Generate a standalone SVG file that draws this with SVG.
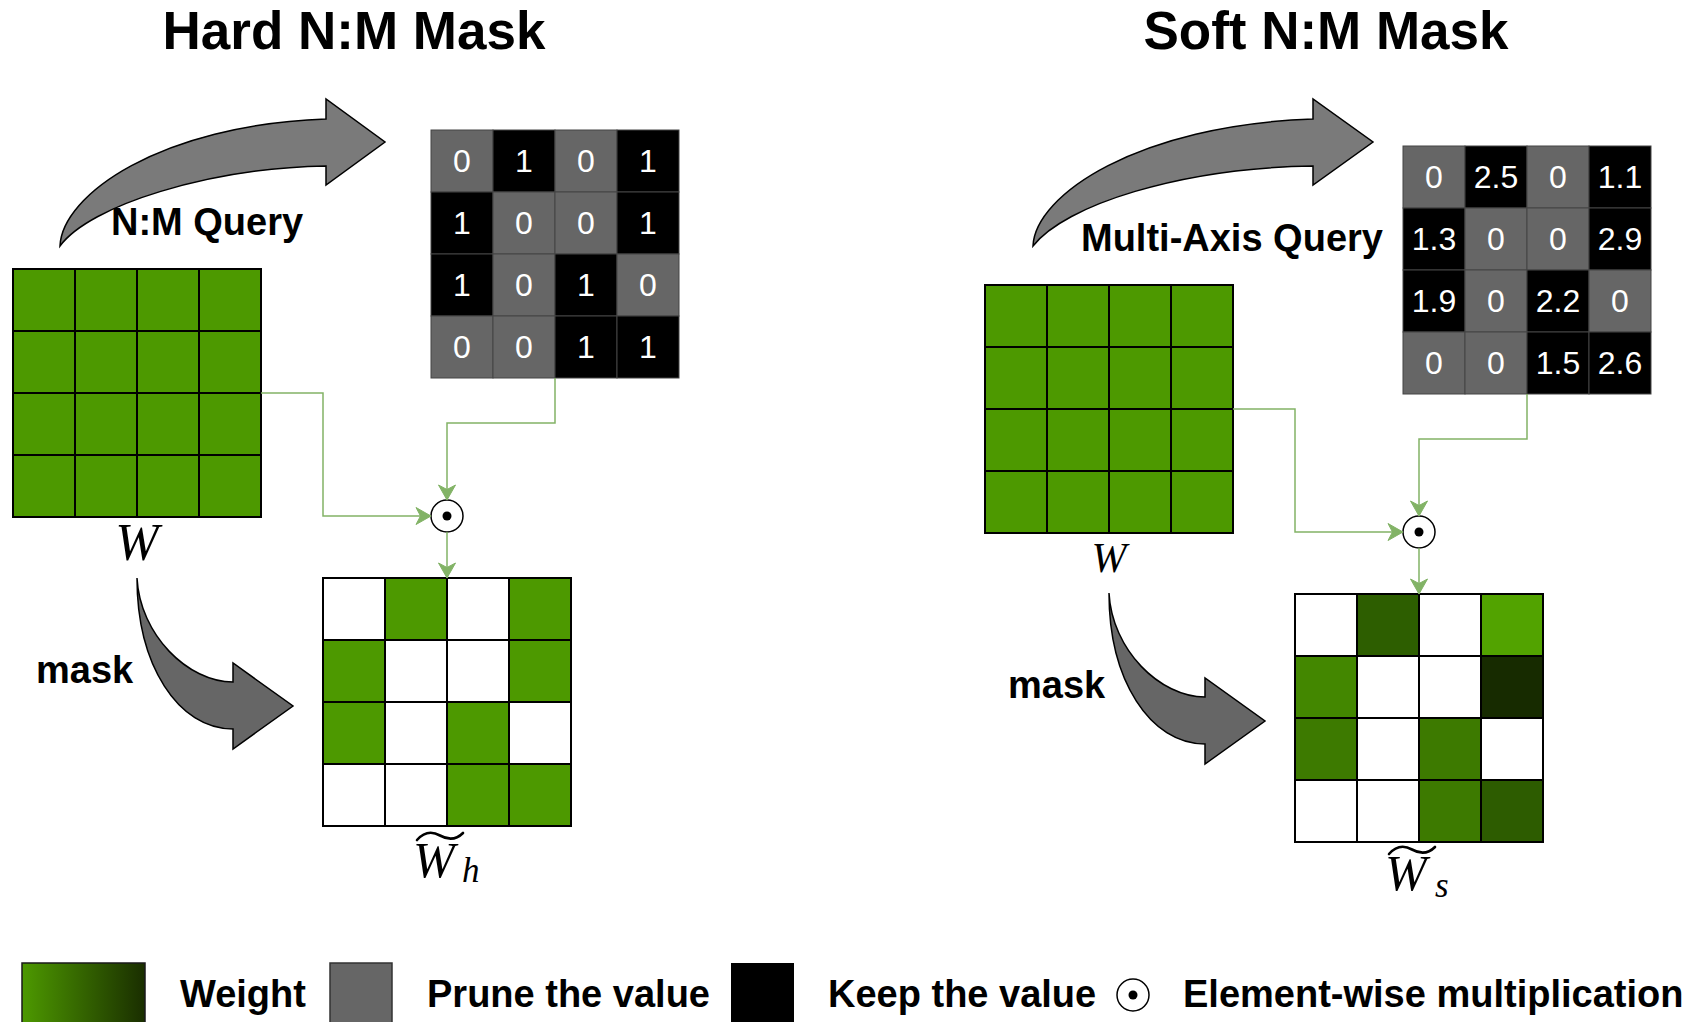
<svg xmlns="http://www.w3.org/2000/svg" width="1699" height="1022" viewBox="0 0 1699 1022">
  <style>
    .w { fill:#4d9900; stroke:#000; stroke-width:2; }
    .blank { fill:#fff; stroke:#000; stroke-width:2; }
    .prune { fill:#666; stroke:#444; stroke-width:1; }
    .keep { fill:#000; stroke:#444; stroke-width:1; }
    .val { font-family:"Liberation Sans", Arial, sans-serif; font-size:32px; fill:#fff; text-anchor:middle; }
    .lbl { font-family:"Liberation Sans", Arial, sans-serif; font-weight:bold; font-size:38px; fill:#000; }
    .title { font-size:53px; text-anchor:middle; }
    .math { font-family:"Liberation Serif", "Times New Roman", serif; font-style:italic; fill:#000; }
    .conn { fill:none; stroke:#82b366; stroke-width:1.5; }
    .bigarrow { stroke:#000; stroke-width:1.5; stroke-linejoin:miter; }
    .odot { fill:#fff; stroke:#000; stroke-width:1.5; }
    .tilde { fill:none; stroke:#000; stroke-width:2.6; stroke-linecap:round; }
  </style>
  <defs>
    <marker id="ah" markerUnits="userSpaceOnUse" markerWidth="16" markerHeight="17" refX="15" refY="8.5" orient="auto" overflow="visible">
      <path d="M0,0 L15,8.5 L0,17 L4.5,8.5 Z" fill="#82b366" stroke="#82b366" stroke-width="1"/>
    </marker>
    <linearGradient id="wgrad" x1="0" y1="0" x2="1" y2="0">
      <stop offset="0" stop-color="#4d9900"/>
      <stop offset="1" stop-color="#1a2e00"/>
    </linearGradient>
  </defs>
  <rect width="1699" height="1022" fill="#fff"/>

  <!-- titles -->
  <text class="lbl title" x="354" y="49">Hard N:M Mask</text>
  <text class="lbl title" x="1326" y="49">Soft N:M Mask</text>

  <!-- ===== hard mask panel ===== -->
  <g id="hard-weight">
    <rect class="w" x="13" y="269" width="62" height="62"/><rect class="w" x="75" y="269" width="62" height="62"/><rect class="w" x="137" y="269" width="62" height="62"/><rect class="w" x="199" y="269" width="62" height="62"/>
    <rect class="w" x="13" y="331" width="62" height="62"/><rect class="w" x="75" y="331" width="62" height="62"/><rect class="w" x="137" y="331" width="62" height="62"/><rect class="w" x="199" y="331" width="62" height="62"/>
    <rect class="w" x="13" y="393" width="62" height="62"/><rect class="w" x="75" y="393" width="62" height="62"/><rect class="w" x="137" y="393" width="62" height="62"/><rect class="w" x="199" y="393" width="62" height="62"/>
    <rect class="w" x="13" y="455" width="62" height="62"/><rect class="w" x="75" y="455" width="62" height="62"/><rect class="w" x="137" y="455" width="62" height="62"/><rect class="w" x="199" y="455" width="62" height="62"/>
    <text class="math" x="137" y="560" font-size="52" text-anchor="middle">W</text>
  </g>

  <g id="hard-query-arrow">
    <path class="bigarrow" fill="#7a7a7a" d="M60,246 C62,195 160,125 326,119 L326,99 L385,142 L326,185 L326,166 C210,168 90,205 60,246 Z"/>
    <text class="lbl" x="111" y="235">N:M Query</text>
  </g>

  <g id="hard-query">
    <rect class="prune" x="431" y="130" width="62" height="62"/><rect class="keep" x="493" y="130" width="62" height="62"/><rect class="prune" x="555" y="130" width="62" height="62"/><rect class="keep" x="617" y="130" width="62" height="62"/>
    <rect class="keep" x="431" y="192" width="62" height="62"/><rect class="prune" x="493" y="192" width="62" height="62"/><rect class="prune" x="555" y="192" width="62" height="62"/><rect class="keep" x="617" y="192" width="62" height="62"/>
    <rect class="keep" x="431" y="254" width="62" height="62"/><rect class="prune" x="493" y="254" width="62" height="62"/><rect class="keep" x="555" y="254" width="62" height="62"/><rect class="prune" x="617" y="254" width="62" height="62"/>
    <rect class="prune" x="431" y="316" width="62" height="62"/><rect class="prune" x="493" y="316" width="62" height="62"/><rect class="keep" x="555" y="316" width="62" height="62"/><rect class="keep" x="617" y="316" width="62" height="62"/>
    <text class="val" x="462" y="172">0</text><text class="val" x="524" y="172">1</text><text class="val" x="586" y="172">0</text><text class="val" x="648" y="172">1</text>
    <text class="val" x="462" y="234">1</text><text class="val" x="524" y="234">0</text><text class="val" x="586" y="234">0</text><text class="val" x="648" y="234">1</text>
    <text class="val" x="462" y="296">1</text><text class="val" x="524" y="296">0</text><text class="val" x="586" y="296">1</text><text class="val" x="648" y="296">0</text>
    <text class="val" x="462" y="358">0</text><text class="val" x="524" y="358">0</text><text class="val" x="586" y="358">1</text><text class="val" x="648" y="358">1</text>
  </g>

  <g id="hard-mul">
    <circle class="odot" cx="447" cy="516" r="16"/>
    <circle cx="447" cy="516" r="4.5" fill="#000"/>
  </g>

  <g id="hard-mask-arrow">
    <path class="bigarrow" fill="#666" d="M137,578 C137,665 178,729 233,729 L233,749 L293,706 L233,663 L233,682 C188,682 140,635 137,578 Z"/>
    <text class="lbl" x="36" y="683">mask</text>
  </g>

  <g id="hard-result">
    <rect class="blank" x="323" y="578" width="62" height="62"/><rect class="w" x="385" y="578" width="62" height="62"/><rect class="blank" x="447" y="578" width="62" height="62"/><rect class="w" x="509" y="578" width="62" height="62"/>
    <rect class="w" x="323" y="640" width="62" height="62"/><rect class="blank" x="385" y="640" width="62" height="62"/><rect class="blank" x="447" y="640" width="62" height="62"/><rect class="w" x="509" y="640" width="62" height="62"/>
    <rect class="w" x="323" y="702" width="62" height="62"/><rect class="blank" x="385" y="702" width="62" height="62"/><rect class="w" x="447" y="702" width="62" height="62"/><rect class="blank" x="509" y="702" width="62" height="62"/>
    <rect class="blank" x="323" y="764" width="62" height="62"/><rect class="blank" x="385" y="764" width="62" height="62"/><rect class="w" x="447" y="764" width="62" height="62"/><rect class="w" x="509" y="764" width="62" height="62"/>
    <path class="tilde" d="M417,840 C424,832 432,831 440,835.5 C448,840 456,840 463,833"/>
    <text class="math" x="413" y="877" font-size="50">W</text>
    <text class="math" x="462" y="882" font-size="35">h</text>
  </g>

  <!-- ===== soft mask panel ===== -->
  <g id="soft-weight">
    <rect class="w" x="985" y="285" width="62" height="62"/><rect class="w" x="1047" y="285" width="62" height="62"/><rect class="w" x="1109" y="285" width="62" height="62"/><rect class="w" x="1171" y="285" width="62" height="62"/>
    <rect class="w" x="985" y="347" width="62" height="62"/><rect class="w" x="1047" y="347" width="62" height="62"/><rect class="w" x="1109" y="347" width="62" height="62"/><rect class="w" x="1171" y="347" width="62" height="62"/>
    <rect class="w" x="985" y="409" width="62" height="62"/><rect class="w" x="1047" y="409" width="62" height="62"/><rect class="w" x="1109" y="409" width="62" height="62"/><rect class="w" x="1171" y="409" width="62" height="62"/>
    <rect class="w" x="985" y="471" width="62" height="62"/><rect class="w" x="1047" y="471" width="62" height="62"/><rect class="w" x="1109" y="471" width="62" height="62"/><rect class="w" x="1171" y="471" width="62" height="62"/>
    <text class="math" x="1109" y="572" font-size="42" text-anchor="middle">W</text>
  </g>

  <g id="soft-query-arrow">
    <path class="bigarrow" fill="#7a7a7a" d="M1033,246 C1035,195 1138,125 1313,119 L1313,99 L1373,142 L1313,185 L1313,166 C1180,168 1065,205 1033,246 Z"/>
    <text class="lbl" x="1081" y="251">Multi-Axis Query</text>
  </g>

  <g id="soft-query">
    <rect class="prune" x="1403" y="146" width="62" height="62"/><rect class="keep" x="1465" y="146" width="62" height="62"/><rect class="prune" x="1527" y="146" width="62" height="62"/><rect class="keep" x="1589" y="146" width="62" height="62"/>
    <rect class="keep" x="1403" y="208" width="62" height="62"/><rect class="prune" x="1465" y="208" width="62" height="62"/><rect class="prune" x="1527" y="208" width="62" height="62"/><rect class="keep" x="1589" y="208" width="62" height="62"/>
    <rect class="keep" x="1403" y="270" width="62" height="62"/><rect class="prune" x="1465" y="270" width="62" height="62"/><rect class="keep" x="1527" y="270" width="62" height="62"/><rect class="prune" x="1589" y="270" width="62" height="62"/>
    <rect class="prune" x="1403" y="332" width="62" height="62"/><rect class="prune" x="1465" y="332" width="62" height="62"/><rect class="keep" x="1527" y="332" width="62" height="62"/><rect class="keep" x="1589" y="332" width="62" height="62"/>
    <text class="val" x="1434" y="188">0</text><text class="val" x="1496" y="188">2.5</text><text class="val" x="1558" y="188">0</text><text class="val" x="1620" y="188">1.1</text>
    <text class="val" x="1434" y="250">1.3</text><text class="val" x="1496" y="250">0</text><text class="val" x="1558" y="250">0</text><text class="val" x="1620" y="250">2.9</text>
    <text class="val" x="1434" y="312">1.9</text><text class="val" x="1496" y="312">0</text><text class="val" x="1558" y="312">2.2</text><text class="val" x="1620" y="312">0</text>
    <text class="val" x="1434" y="374">0</text><text class="val" x="1496" y="374">0</text><text class="val" x="1558" y="374">1.5</text><text class="val" x="1620" y="374">2.6</text>
  </g>

  <g id="soft-mul">
    <circle class="odot" cx="1419" cy="532" r="16"/>
    <circle cx="1419" cy="532" r="4.5" fill="#000"/>
  </g>

  <g id="soft-mask-arrow">
    <path class="bigarrow" fill="#666" d="M1109,593 C1109,680 1150,744 1205,744 L1205,764 L1265,721 L1205,678 L1205,697 C1160,697 1112,650 1109,593 Z"/>
    <text class="lbl" x="1008" y="698">mask</text>
  </g>

  <g id="soft-result">
    <rect class="blank" x="1295" y="594" width="62" height="62"/><rect fill="#2d5e00" stroke="#000" stroke-width="2" x="1357" y="594" width="62" height="62"/><rect class="blank" x="1419" y="594" width="62" height="62"/><rect fill="#52a300" stroke="#000" stroke-width="2" x="1481" y="594" width="62" height="62"/>
    <rect fill="#438700" stroke="#000" stroke-width="2" x="1295" y="656" width="62" height="62"/><rect class="blank" x="1357" y="656" width="62" height="62"/><rect class="blank" x="1419" y="656" width="62" height="62"/><rect fill="#172b00" stroke="#000" stroke-width="2" x="1481" y="656" width="62" height="62"/>
    <rect fill="#3d7a00" stroke="#000" stroke-width="2" x="1295" y="718" width="62" height="62"/><rect class="blank" x="1357" y="718" width="62" height="62"/><rect fill="#3d7a00" stroke="#000" stroke-width="2" x="1419" y="718" width="62" height="62"/><rect class="blank" x="1481" y="718" width="62" height="62"/>
    <rect class="blank" x="1295" y="780" width="62" height="62"/><rect class="blank" x="1357" y="780" width="62" height="62"/><rect fill="#3d7a00" stroke="#000" stroke-width="2" x="1419" y="780" width="62" height="62"/><rect fill="#2d5c00" stroke="#000" stroke-width="2" x="1481" y="780" width="62" height="62"/>
    <path class="tilde" d="M1389,854 C1396,846 1404,845 1412,849.5 C1420,854 1428,854 1435,847"/>
    <text class="math" x="1385" y="890" font-size="50">W</text>
    <text class="math" x="1435" y="897" font-size="35">s</text>
  </g>

  <!-- connectors -->
  <g id="connectors">
    <path class="conn" d="M261,393 H323 V516 H431" marker-end="url(#ah)"/>
    <path class="conn" d="M555,378 V423 H447 V500" marker-end="url(#ah)"/>
    <path class="conn" d="M447,532 V578" marker-end="url(#ah)"/>
    <path class="conn" d="M1233,409 H1295 V532 H1403" marker-end="url(#ah)"/>
    <path class="conn" d="M1527,394 V439 H1419 V516" marker-end="url(#ah)"/>
    <path class="conn" d="M1419,548 V594" marker-end="url(#ah)"/>
  </g>

  <!-- legend -->
  <g id="legend">
    <rect x="22" y="963" width="123" height="70" fill="url(#wgrad)" stroke="#1a1a1a" stroke-width="1.5"/>
    <text class="lbl" x="180" y="1007">Weight</text>
    <rect x="330" y="963" width="62" height="70" fill="#666" stroke="#333" stroke-width="1.5"/>
    <text class="lbl" x="427" y="1007">Prune the value</text>
    <rect x="731" y="963" width="63" height="70" fill="#000"/>
    <text class="lbl" x="828" y="1007">Keep the value</text>
    <circle class="odot" cx="1133" cy="995" r="16"/>
    <circle cx="1133" cy="995" r="4.5" fill="#000"/>
    <text class="lbl" x="1183" y="1007">Element-wise multiplication</text>
  </g>
</svg>
